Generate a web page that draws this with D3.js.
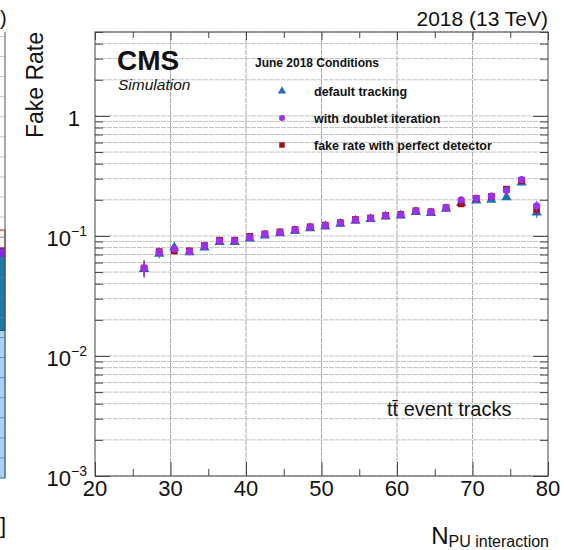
<!DOCTYPE html>
<html>
<head>
<meta charset="utf-8">
<script src="https://cdn.jsdelivr.net/npm/d3@7"></script>
<style>
  html, body { margin: 0; padding: 0; background: #fff; }
  svg { display: block; font-family: "Liberation Sans", Arial, Helvetica, sans-serif; }
</style>
</head>
<body>
<svg id="chart" width="564" height="550"></svg>
<script>
// Pile-up bins (centre of each 2-interaction bin)
const nPileup = [26.5, 28.5, 30.5, 32.5, 34.5, 36.5, 38.5, 40.5, 42.5, 44.5, 46.5, 48.5, 50.5, 52.5,
                 54.5, 56.5, 58.5, 60.5, 62.5, 64.5, 66.5, 68.5, 70.5, 72.5, 74.5, 76.5, 78.5];

// Fake rate per bin for each configuration
const defaultTracking = [0.053, 0.071, 0.080, 0.073, 0.080, 0.089, 0.089, 0.095, 0.101, 0.105, 0.110, 0.116, 0.120, 0.126,
                         0.134, 0.138, 0.145, 0.148, 0.158, 0.155, 0.168, 0.188, 0.197, 0.200, 0.210, 0.278, 0.157];
const doubletIteration = [0.054, 0.073, 0.078, 0.074, 0.082, 0.091, 0.091, 0.097, 0.103, 0.107, 0.112, 0.118, 0.122, 0.128,
                          0.136, 0.140, 0.147, 0.150, 0.161, 0.158, 0.171, 0.200, 0.206, 0.214, 0.240, 0.295, 0.178];
const perfectDetector = [0.054, 0.074, 0.075, 0.075, 0.083, 0.092, 0.092, 0.099, 0.104, 0.108, 0.113, 0.119, 0.123, 0.129,
                         0.137, 0.141, 0.148, 0.151, 0.162, 0.159, 0.172, 0.185, 0.205, 0.213, 0.245, 0.290, 0.167];

// Statistical uncertainties per bin
const defaultErr = [0.008, 0.006, 0.005, 0.004, 0.004, 0.003, 0.003, 0.003, 0.003, 0.003, 0.003, 0.003, 0.003, 0.003,
                    0.003, 0.003, 0.003, 0.004, 0.004, 0.004, 0.005, 0.006, 0.007, 0.008, 0.010, 0.015, 0.016];
const doubletErr = [0.009, 0.006, 0.005, 0.004, 0.004, 0.003, 0.003, 0.003, 0.003, 0.003, 0.003, 0.003, 0.003, 0.003,
                    0.003, 0.003, 0.003, 0.004, 0.004, 0.004, 0.005, 0.006, 0.007, 0.008, 0.010, 0.015, 0.018];
const perfectErr = [0.008, 0.006, 0.005, 0.004, 0.004, 0.003, 0.003, 0.003, 0.003, 0.003, 0.003, 0.003, 0.003, 0.003,
                    0.003, 0.003, 0.003, 0.004, 0.004, 0.004, 0.005, 0.006, 0.007, 0.008, 0.010, 0.015, 0.016];

// Axis ticks
const xMajorTicks = [20, 30, 40, 50, 60, 70, 80];
const xMinorTicks = [25, 35, 45, 55, 65, 75];
const yDecades = [1e-3, 1e-2, 1e-1, 1];
const yTickLabels = ["10|\u22123", "10|\u22122", "10|\u22121", "1"];

// Legend
const legendHeader = "June 2018 Conditions";
const seriesNames = ["default tracking", "with doublet iteration", "fake rate with perfect detector"];

// Stack of the neighbouring panel (fractions of its height, bottom to top)
const neighbourStack = [
  { share: 0.331, fill: "#a9d1f6", stroke: "#5c9fd8" },
  { share: 0.165, fill: "#1f78a6", stroke: "#0d4f73" },
  { share: 0.020, fill: "#8a2be2", stroke: "#6a1bb0" },
  { share: 0.040, fill: "#fff4f4", stroke: "#a01818" }
];

const svg = d3.select("#chart");
const W = 564, H = 550;
const plot = { left: 95, right: 548, top: 32, bottom: 476 };

const x = d3.scaleLinear().domain([20, 80]).range([plot.left, plot.right]);
const y = d3.scaleLog().domain([1e-3, 5]).range([plot.bottom, plot.top]);

// ---- neighbouring panel sliver on the left edge ----
const nb = svg.append("g");
nb.append("clipPath").attr("id", "nbclip")
  .append("rect").attr("x", 0).attr("y", 0).attr("width", 6).attr("height", H);
const nbg = nb.append("g").attr("clip-path", "url(#nbclip)");
const nbY = d3.scaleLinear().domain([0, 1]).range([478, 32]);
let acc = 0;
neighbourStack.forEach(s => {
  nbg.append("rect")
    .attr("x", -40).attr("width", 45)
    .attr("y", nbY(acc + s.share)).attr("height", nbY(acc) - nbY(acc + s.share))
    .attr("fill", s.fill).attr("stroke", s.stroke).attr("stroke-width", 1);
  acc += s.share;
});
d3.range(0, 1.0001, 0.045).forEach(v => {
  nbg.append("line").attr("x1", 0).attr("x2", 5)
    .attr("y1", nbY(v)).attr("y2", nbY(v))
    .attr("stroke", v < acc ? "#4c7fae" : "#bbb").attr("stroke-width", 0.8);
});
nbg.append("line").attr("x1", 5).attr("x2", 5).attr("y1", 32).attr("y2", 478)
  .attr("stroke", "#555").attr("stroke-width", 1);
nb.append("text").attr("x", 0).attr("y", 25).attr("text-anchor", "start")
  .attr("font-size", 20).attr("fill", "#111").text(")");
nb.append("text").attr("x", 0).attr("y", 533).attr("text-anchor", "start")
  .attr("font-size", 22).attr("fill", "#111").text("]");

// ---- grid ----
const yGridValues = [];
yDecades.forEach(d => { for (let k = 1; k <= 9; k++) { const v = k * d; if (v <= 5.0001) yGridValues.push(v); } });

const grid = svg.append("g");
grid.selectAll("line.hg").data(yGridValues).join("line")
  .attr("x1", plot.left).attr("x2", plot.right)
  .attr("y1", d => y(d)).attr("y2", d => y(d))
  .attr("stroke", "#c2c2c2").attr("stroke-width", 1).attr("stroke-dasharray", "5,1");
grid.selectAll("line.vg").data(xMajorTicks.slice(1, -1)).join("line")
  .attr("x1", d => x(d)).attr("x2", d => x(d))
  .attr("y1", plot.top).attr("y2", plot.bottom)
  .attr("stroke", "#aaaaaa").attr("stroke-width", 1).attr("stroke-dasharray", "5,1");

// ---- axis ticks (inward) ----
function styleAxis(g) {
  g.select(".domain").remove();
  g.selectAll("line").attr("stroke", "#444").attr("stroke-width", 1);
  g.selectAll("text").remove();
}
const yMinor = yGridValues.filter(v => !yDecades.includes(v));

svg.append("g").attr("transform", `translate(0,${plot.bottom})`)
  .call(d3.axisBottom(x).tickValues(xMajorTicks).tickSizeInner(-14).tickSizeOuter(0)).call(styleAxis);
svg.append("g").attr("transform", `translate(0,${plot.bottom})`)
  .call(d3.axisBottom(x).tickValues(xMinorTicks).tickSizeInner(-7).tickSizeOuter(0)).call(styleAxis);
svg.append("g").attr("transform", `translate(0,${plot.top})`)
  .call(d3.axisTop(x).tickValues(xMajorTicks).tickSizeInner(-8).tickSizeOuter(0)).call(styleAxis);
svg.append("g").attr("transform", `translate(0,${plot.top})`)
  .call(d3.axisTop(x).tickValues(xMinorTicks).tickSizeInner(-6).tickSizeOuter(0)).call(styleAxis);

svg.append("g").attr("transform", `translate(${plot.left},0)`)
  .call(d3.axisLeft(y).tickValues(yDecades).tickSizeInner(-15).tickSizeOuter(0)).call(styleAxis);
svg.append("g").attr("transform", `translate(${plot.left},0)`)
  .call(d3.axisLeft(y).tickValues(yMinor).tickSizeInner(-8).tickSizeOuter(0)).call(styleAxis);
svg.append("g").attr("transform", `translate(${plot.right},0)`)
  .call(d3.axisRight(y).tickValues(yDecades).tickSizeInner(-15).tickSizeOuter(0)).call(styleAxis);
svg.append("g").attr("transform", `translate(${plot.right},0)`)
  .call(d3.axisRight(y).tickValues(yMinor).tickSizeInner(-8).tickSizeOuter(0)).call(styleAxis);

// frame
svg.append("rect")
  .attr("x", plot.left).attr("y", plot.top)
  .attr("width", plot.right - plot.left).attr("height", plot.bottom - plot.top)
  .attr("fill", "none").attr("stroke", "#444").attr("stroke-width", 1);

// ---- tick labels ----
svg.append("g").selectAll("text").data(xMajorTicks).join("text")
  .attr("x", d => x(d)).attr("y", 496)
  .attr("text-anchor", "middle").attr("font-size", 22).attr("fill", "#111")
  .text(d => d);

const yl = svg.append("g").selectAll("text").data(yDecades).join("text")
  .attr("y", d => y(d) + 10)
  .attr("x", (d, i) => yTickLabels[i].includes("|") ? 87 : 80)
  .attr("text-anchor", "end").attr("font-size", 22).attr("fill", "#111");
yl.each(function (d, i) {
  const parts = yTickLabels[i].split("|");
  const t = d3.select(this);
  t.append("tspan").text(parts[0]);
  if (parts.length > 1) {
    t.append("tspan").attr("font-size", 14).attr("dy", -10).text(parts[1]);
  }
});

// ---- axis titles ----
svg.append("text")
  .attr("transform", `translate(43,${plot.top}) rotate(-90)`)
  .attr("text-anchor", "end").attr("font-size", 23).attr("fill", "#111")
  .text("Fake Rate");

const xt = svg.append("text").attr("x", 549).attr("y", 544)
  .attr("text-anchor", "end").attr("fill", "#111");
xt.append("tspan").attr("font-size", 24).text("N");
xt.append("tspan").attr("font-size", 16).attr("dy", 3).text("PU interaction");

svg.append("text").attr("x", 548).attr("y", 26).attr("text-anchor", "end")
  .attr("font-size", 21).attr("fill", "#111").text("2018 (13 TeV)");

// ---- CMS labels ----
svg.append("text").attr("x", 117).attr("y", 70)
  .attr("font-size", 28).attr("font-weight", "bold").attr("fill", "#111").text("CMS");
svg.append("text").attr("x", 118).attr("y", 90)
  .attr("font-size", 15.5).attr("font-style", "italic").attr("fill", "#111").text("Simulation");

svg.append("text").attr("x", 387).attr("y", 416)
  .attr("font-size", 20).attr("fill", "#111")
  .text("tt\u0304 event tracks");

// ---- data series ----
const series = [
  { name: seriesNames[0], values: defaultTracking, errs: defaultErr, color: "#1f70b5", shape: d3.symbolTriangle, size: 46 },
  { name: seriesNames[2], values: perfectDetector, errs: perfectErr, color: "#a80f12", shape: d3.symbolSquare, size: 46 },
  { name: seriesNames[1], values: doubletIteration, errs: doubletErr, color: "#9b30f2", shape: d3.symbolCircle, size: 42 }
];

series.forEach(s => {
  const g = svg.append("g");
  const pts = nPileup.map((n, i) => ({ n, v: s.values[i], e: s.errs[i] }));
  g.selectAll("line").data(pts).join("line")
    .attr("x1", d => x(d.n)).attr("x2", d => x(d.n))
    .attr("y1", d => y(d.v - d.e)).attr("y2", d => y(d.v + d.e))
    .attr("stroke", s.color).attr("stroke-width", 1);
  g.selectAll("path").data(pts).join("path")
    .attr("transform", d => `translate(${x(d.n)},${y(d.v)})`)
    .attr("d", d3.symbol().type(s.shape).size(s.size))
    .attr("fill", s.color);
});

// ---- legend ----
const legend = svg.append("g");
legend.append("text").attr("x", 255).attr("y", 67)
  .attr("font-size", 12).attr("font-weight", "bold").attr("fill", "#111").text(legendHeader);
const legendOrder = [series[0], series[2], series[1]];
const legendY = [91, 118, 145];
const legendSize = [30, 28, 30];
legendOrder.forEach((s, i) => {
  legend.append("path")
    .attr("transform", `translate(282,${legendY[i]})`)
    .attr("d", d3.symbol().type(s.shape).size(legendSize[i]))
    .attr("fill", s.color);
  legend.append("text").attr("x", 314).attr("y", legendY[i] + 4.5)
    .attr("font-size", 12.5).attr("font-weight", "bold").attr("fill", "#111").text(s.name);
});
</script>
</body>
</html>
